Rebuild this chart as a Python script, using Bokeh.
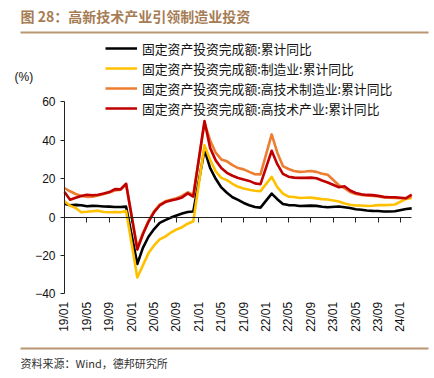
import math
from bokeh.plotting import figure
from bokeh.models import Label, Legend, LegendItem, FixedTicker, LinearAxis, Arrow
from bokeh.embed import file_html
from bokeh.resources import INLINE

# ---------------- data ----------------
months = (["2019-%02d" % m for m in range(1, 13)]
          + ["%d-%02d" % (y, m) for y in (2020, 2021, 2022, 2023) for m in range(2, 13)]
          + ["2024-02", "2024-03"])

fai_total = [6.9, 6.1, 6.3, 6.1, 5.6, 5.8, 5.7, 5.5, 5.4, 5.2, 5.2, 5.4,
             -24.5, -16.1, -10.3, -6.3, -3.1, -1.6, -0.3, 0.8, 1.8, 2.6, 2.9,
             35.0, 25.6, 19.9, 15.4, 12.6, 10.3, 8.9, 7.3, 6.1, 5.2, 4.9,
             12.2, 9.3, 6.8, 6.2, 6.1, 5.7, 5.8, 5.9, 5.8, 5.3, 5.1,
             5.5, 5.1, 4.7, 4.0, 3.8, 3.4, 3.2, 3.1, 2.9, 2.9, 3.0,
             4.2, 4.5]
fai_mfg = [8.2, 5.9, 4.6, 2.5, 2.7, 3.0, 3.3, 2.6, 2.5, 2.6, 2.5, 3.1,
           -31.5, -25.2, -18.8, -14.8, -11.7, -10.2, -8.1, -6.5, -5.3, -3.5, -2.2,
           37.3, 29.8, 23.8, 20.4, 19.2, 17.3, 15.7, 14.8, 14.2, 13.7, 13.5,
           20.9, 15.6, 12.2, 10.6, 10.4, 9.9, 10.0, 10.1, 9.7, 9.3, 9.1,
           8.1, 7.0, 6.4, 6.0, 6.0, 5.7, 5.9, 6.2, 6.2, 6.3, 6.5,
           9.4, 9.9]
fai_hitech_mfg = [15.0, 13.4, 12.0, 11.0, 10.5, 10.6, 11.2, 12.0, 12.8, 13.8, 14.2, 17.0,
                  -16.0, -8.5, -2.0, 3.0, 6.5, 8.2, 9.0, 9.8, 11.0, 12.9, 11.5,
                  49.0, 40.0, 33.5, 30.0, 29.0, 27.0, 25.5, 24.8, 23.5, 22.3, 22.2,
                  43.0, 33.5, 26.5, 25.0, 24.0, 23.5, 23.7, 24.0, 23.5, 22.5, 22.0,
                  16.5, 15.0, 13.0, 12.0, 11.5, 11.2, 11.0, 10.8, 10.2, 10.0, 9.9,
                  9.6, 10.8]
fai_hitech = [13.0, 9.0, 10.0, 10.9, 11.6, 11.3, 11.6, 12.2, 13.0, 14.5, 14.4, 17.3,
              -17.0, -9.0, -2.5, 2.5, 6.0, 7.8, 8.6, 9.2, 10.2, 12.3, 10.6,
              50.0, 36.0, 29.5, 25.5, 23.0, 21.5, 20.3, 19.5, 18.8, 17.5, 17.1,
              34.5, 27.5, 22.5, 21.0, 20.5, 20.4, 20.4, 20.5, 20.2, 19.0, 18.0,
              15.5, 16.0, 13.8, 12.5, 11.8, 11.5, 11.4, 11.0, 10.5, 10.3, 10.3,
              9.8, 11.6]

series_names = ["固定资产投资完成额:累计同比",
                "固定资产投资完成额:制造业:累计同比",
                "固定资产投资完成额:高技术制造业:累计同比",
                "固定资产投资完成额:高技术产业:累计同比"]

tick_labels = ["19/01", "19/05", "19/09", "20/01", "20/05", "20/09", "21/01", "21/05",
               "21/09", "22/01", "22/05", "22/09", "23/01", "23/05", "23/09", "24/01"]
y_ticks = [-40, -20, 0, 20, 40, 60]


def month_index(s):
    y, m = s.split("-")
    return (int(y) - 2019) * 12 + int(m) - 1


x = [month_index(m) for m in months]
tick_pos = [month_index("20" + t[:2] + "-" + t[3:]) for t in tick_labels]

# ---------------- layout geometry (pixels) ----------------
W, H = 432, 376
X0_PX, DX_PX = 64.0, 5.6            # pixel of month 0, pixels per month
Y0_PX, DY_PX = 216.5, 1.92          # pixel of value 0, pixels per unit
x_start = -X0_PX / DX_PX
x_end = (W - X0_PX) / DX_PX
y_end = Y0_PX / DY_PX
y_start = -(H - Y0_PX) / DY_PX

p = figure(frame_width=W, frame_height=H,
           x_range=(x_start, x_end), y_range=(y_start, y_end),
           min_border=0, min_border_left=0, min_border_right=0,
           min_border_top=0, min_border_bottom=0,
           x_axis_location=None, y_axis_location=None,
           output_backend="svg", toolbar_location=None)
p.outline_line_color = None
p.grid.visible = False
p.background_fill_color = "white"
p.border_fill_color = "white"

AX = "#222222"

# y axis at x = first month
ya = LinearAxis(fixed_location=0, bounds=(-40, 60), ticker=FixedTicker(ticks=y_ticks))
ya.minor_tick_line_color = None
ya.major_tick_out = 4
ya.major_tick_in = 0
ya.axis_line_color = AX
ya.major_tick_line_color = AX
ya.major_label_text_font = "Liberation Sans"
ya.major_label_text_font_size = "12px"
ya.major_label_text_color = "#111111"
ya.major_label_standoff = 5
p.add_layout(ya, "left")

# x axis line + ticks at zero
xa0 = LinearAxis(fixed_location=0, bounds=(0, 62), ticker=FixedTicker(ticks=tick_pos))
xa0.major_label_text_font_size = "0px"
xa0.major_label_overrides = {tp: "" for tp in tick_pos}
xa0.minor_tick_line_color = None
xa0.major_tick_out = 5
xa0.major_tick_in = 0
xa0.axis_line_color = AX
xa0.major_tick_line_color = AX
p.add_layout(xa0, "below")

# x tick labels at the bottom (y = -40)
xa1 = LinearAxis(fixed_location=-40, ticker=FixedTicker(ticks=tick_pos))
xa1.major_label_overrides = {tp: lab for tp, lab in zip(tick_pos, tick_labels)}
xa1.major_label_orientation = math.pi / 2
xa1.axis_line_color = None
xa1.major_tick_line_color = None
xa1.minor_tick_line_color = None
xa1.major_tick_out = 0
xa1.major_tick_in = 0
xa1.major_label_standoff = 8
xa1.major_label_text_font = "Liberation Sans"
xa1.major_label_text_font_size = "12px"
xa1.major_label_text_color = "#111111"
p.add_layout(xa1, "below")

colors = ["#000000", "#FFC000", "#ED7D31", "#C00000"]
items = []
for vals, c, name in zip([fai_total, fai_mfg, fai_hitech_mfg, fai_hitech], colors, series_names):
    r = p.line(x, vals, line_color=c, line_width=2.6, line_join="round")
    items.append(LegendItem(label=name, renderers=[r]))

legend = Legend(items=items, location=(105, H - 118), orientation="vertical",
                glyph_width=32, glyph_height=20, label_height=20, label_standoff=5,
                spacing=0, padding=0, margin=0,
                background_fill_alpha=0, border_line_alpha=0,
                label_text_font="Noto Sans CJK SC", label_text_font_size="12.8px",
                label_text_color="#111111")
p.add_layout(legend, "center")

# texts and rules (screen units: from frame left, from frame bottom)
brown = "#a67c55"
rule = "#b99572"
p.add_layout(Label(x=20, y=H - 15, x_units="screen", y_units="screen",
                   text="图 28：高新技术产业引领制造业投资",
                   text_font="Noto Sans CJK SC", text_font_size="14px", text_font_style="bold",
                   text_color=brown, text_baseline="middle"))
p.add_layout(Arrow(end=None, x_start=20, y_start=H - 32, x_end=W - 4, y_end=H - 32,
                   start_units="screen", end_units="screen",
                   line_color=rule, line_width=2))
p.add_layout(Label(x=14, y=H - 76, x_units="screen", y_units="screen", text="(%)",
                   text_font="Liberation Sans", text_font_size="12px",
                   text_color="#111111", text_baseline="middle"))
p.add_layout(Arrow(end=None, x_start=20, y_start=H - 348, x_end=W - 4, y_end=H - 348,
                   start_units="screen", end_units="screen",
                   line_color=rule, line_width=2))
p.add_layout(Label(x=20, y=H - 362, x_units="screen", y_units="screen",
                   text="资料来源：Wind，德邦研究所",
                   text_font="Noto Sans CJK SC", text_font_size="11px",
                   text_color="#333333", text_baseline="middle"))

open("out.html", "w").write(file_html(p, INLINE))
